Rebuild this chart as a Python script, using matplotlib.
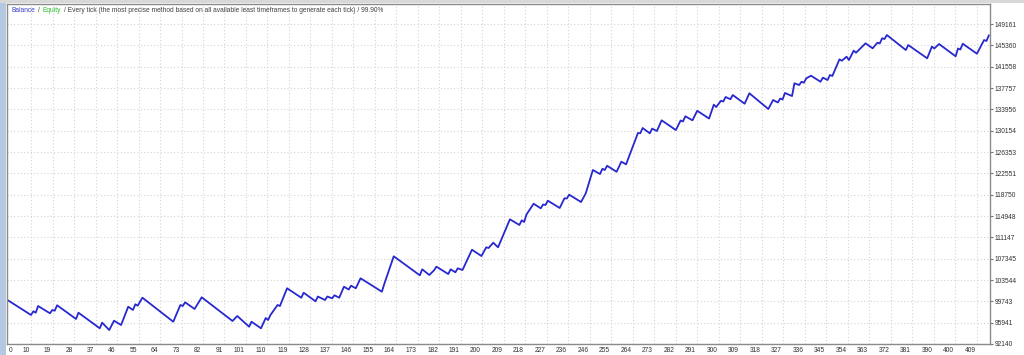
import matplotlib
matplotlib.use('Agg')
import matplotlib.pyplot as plt
import matplotlib.transforms as mtransforms
from matplotlib.patches import Rectangle
import numpy as np

# balance curve (trade number, balance)
trades = [0, 10, 11, 12, 13, 18, 19, 20, 21, 29, 30, 39, 40, 43, 45, 48, 51, 53, 54, 55,
          57, 70, 73, 74, 75, 79, 82, 95, 97, 102, 103, 107, 109, 110, 111, 113, 114, 115, 118, 124,
          125, 130, 131, 134, 135, 137, 138, 140, 142, 144, 145, 147, 149, 158, 159, 163, 174, 175, 178, 180,
          181, 186, 187, 189, 190, 192, 196, 200, 202, 203, 205, 207, 212, 216, 217, 218, 219, 222, 225, 226,
          227, 228, 233, 235, 236, 237, 242, 244, 247, 250, 251, 252, 253, 257, 259, 261, 263, 266, 267, 268,
          271, 272, 274, 276, 282, 284, 285, 286, 289, 291, 296, 298, 299, 301, 302, 303, 305, 306, 311, 313,
          321, 323, 325, 326, 327, 328, 331, 332, 334, 335, 336, 337, 339, 343, 344, 346, 347, 348, 351, 352,
          354, 355, 357, 358, 362, 365, 367, 368, 369, 370, 371, 379, 380, 388, 390, 391, 393, 400, 401, 402,
          403, 409, 412, 413, 414]
balance = [100000, 97310, 97970, 97720, 98910, 97610, 98200, 98070, 99040, 96600, 97720, 94940, 95940, 94630, 96290, 95530, 98790, 98200, 99220, 98970,
           100390, 96110, 99090, 98910, 99570, 98380, 100460, 96240, 97130, 95220, 96110, 94940, 96770, 96420, 97310, 98500, 99090, 98910, 102070, 100390,
           101280, 99750, 100600, 99980, 100600, 100280, 100820, 100390, 102350, 101850, 102530, 102070, 103850, 101460, 102830, 107770, 104380, 105450, 104440, 105270,
           105920, 104610, 105450, 104920, 105630, 105330, 108940, 107820, 109370, 109250, 110190, 109370, 114360, 113350, 114180, 113880, 115220, 117140, 116320, 117000,
           116910, 117680, 116380, 118100, 118070, 118750, 117440, 119000, 123150, 122430, 123360, 123150, 123900, 122830, 124630, 124160, 126410, 129740, 129700, 130630,
           129690, 130520, 130100, 132000, 130270, 131970, 131790, 132720, 132000, 133700, 132320, 134780, 134370, 135480, 135350, 136160, 135750, 136510, 134960, 136820,
           134020, 135620, 135180, 135890, 135710, 136870, 136330, 138600, 138290, 138880, 138700, 139490, 139950, 138880, 139600, 139190, 140080, 139900, 142870, 142620,
           143340, 142750, 144410, 144050, 145720, 144830, 145830, 145700, 146620, 146490, 147200, 144530, 145420, 143050, 145150, 144800, 145600, 143410, 144800, 144620,
           145650, 143870, 146310, 146140, 147120]

x_labels = ['0', '10', '19', '28', '37', '46', '55', '64', '73', '82', '91', '101', '110', '119',
            '128', '137', '146', '155', '164', '173', '182', '191', '200', '209', '218', '227',
            '236', '246', '255', '264', '273', '282', '291', '300', '309', '318', '327', '336',
            '345', '354', '363', '372', '381', '390', '400', '409']
y_labels = [92140, 95941, 99743, 103544, 107345, 111147, 114948, 118750, 122551,
            126353, 130154, 133956, 137757, 141558, 145360, 149161]

title_parts = ['Balance', '/', 'Equity',
               '/ Every tick (the most precise method based on all available least timeframes to generate each tick) / 99.90%']
title_colors = ['#3c3cc8', '#404040', '#30c030', '#404040']

plt.rcParams['font.family'] = ['Liberation Sans', 'DejaVu Sans']
fs = 4.8
W, H = 1024, 355

fig = plt.figure(figsize=(W / 100, H / 100), dpi=100)
fig.patch.set_facecolor('white')
ax = fig.add_axes([7.3 / W, 11 / H, (990 - 7.3) / W, (344 - 4) / H])

ax.plot(trades, balance, color='#2828d0', lw=1.3)

ax.set_xlim(0, 414.5)
ax.set_ylim(92140, 152730)

# grid positions are evenly spaced, labels are the trade numbers MT4 printed there
xpos = np.concatenate([[0], 10 + np.arange(len(x_labels) - 1) * 399 / 44])
ax.set_xticks(xpos)
ax.set_xticklabels(x_labels, fontsize=fs, color='#303030')
ax.set_yticks(y_labels)
ax.set_yticklabels([str(v) for v in y_labels], fontsize=fs, color='#303030')
ax.yaxis.tick_right()

ax.tick_params(axis='x', length=0, pad=2.2)
ax.tick_params(axis='y', length=2.2, width=0.8, color='#707070', pad=1.2)

shift_l = mtransforms.ScaledTranslation(-1.5 / 100, 0, fig.dpi_scale_trans)
shift_r = mtransforms.ScaledTranslation(1.5 / 100, 0, fig.dpi_scale_trans)
for i, lab in enumerate(ax.get_xticklabels()):
    if i == 0:
        lab.set_ha('left')
        lab.set_transform(lab.get_transform() + shift_r)
    else:
        lab.set_ha('right')
        lab.set_transform(lab.get_transform() + shift_l)

ax.grid(True, color='#d4d4d4', linestyle=(0, (1, 2)), linewidth=0.8)
ax.set_axisbelow(True)
for s in ax.spines.values():
    s.set_color('#8a8a8a')
    s.set_linewidth(1.0)

# window chrome: blue strip on the left, grey bar on top
fig.patches.append(Rectangle((0, 0), 6 / W, 1, transform=fig.transFigure,
                             facecolor='#b4c8e2', edgecolor='none', zorder=0))
fig.patches.append(Rectangle((0, 1 - 3 / H), 1, 3 / H, transform=fig.transFigure,
                             facecolor='#d8d8d8', edgecolor='none', zorder=0))

# coloured header text, pieces laid next to each other
renderer = fig.canvas.get_renderer()
x0 = 11 / W
for txt, col in zip(title_parts, title_colors):
    t = fig.text(x0, 1 - 10.5 / H, txt, color=col, fontsize=fs, va='center', ha='left')
    bb = t.get_window_extent(renderer)
    x0 = (bb.x1 + 3) / W

fig.savefig('out.png', dpi=100)
